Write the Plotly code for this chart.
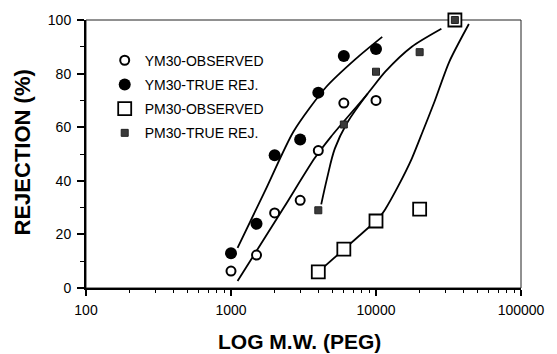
import plotly.graph_objects as go

# ---- data ----
ym30_obs_x = [1000, 1500, 2000, 3000, 4000, 6000, 10000]
ym30_obs_y = [6.3, 12.3, 28, 32.7, 51.3, 69, 70]

ym30_true_x = [1000, 1500, 2000, 3000, 4000, 6000, 10000]
ym30_true_y = [13, 24, 49.5, 55.4, 72.9, 86.6, 89.2]

pm30_obs_x = [4000, 6000, 10000, 20000, 35000]
pm30_obs_y = [6, 14.5, 25, 29.4, 100]

pm30_true_x = [4000, 6000, 10000, 20000, 35000]
pm30_true_y = [29, 61, 80.7, 88, 100]

# hand-drawn fitted curves
curve_ym30_true_x = [1110, 1730, 2700, 4530, 7250, 11040]
curve_ym30_true_y = [15, 36.6, 58.4, 75, 85.5, 93.7]

curve_ym30_obs_x = [1110, 2320, 3760, 4900, 8750, 11590, 17660, 28250]
curve_ym30_obs_y = [2.6, 30.1, 48.3, 56.5, 72.5, 80.7, 90, 96.7]

curve_pm30_true_x = [4190, 4600, 5200, 6300, 8750]
curve_pm30_true_y = [31.2, 41, 52, 61.5, 72.5]

seg_pm30_obs_x = [4000, 6000, 10000]
seg_pm30_obs_y = [6, 14.5, 25]

curve_pm30_obs_x = [10800, 11590, 14190, 17660, 21000, 25300, 32000, 43700]
curve_pm30_obs_y = [27, 29.4, 37.9, 48.3, 58.4, 69.5, 84.4, 98.5]

x_tick_vals = [100, 1000, 10000, 100000]
x_tick_text = ["100", "1000", "10000", "100000"]
x_minor_vals = [k * 10 ** d for d in range(2, 5) for k in range(2, 10)]

FONT = "Liberation Sans, Arial, sans-serif"
LW = 1.8

fig = go.Figure()

def curve(x, y, shape="spline", smoothing=0.7):
    fig.add_trace(go.Scatter(x=x, y=y, mode="lines", showlegend=False,
                             line=dict(color="black", width=LW, shape=shape, smoothing=smoothing),
                             hoverinfo="skip"))

curve(curve_ym30_true_x, curve_ym30_true_y)
curve(curve_ym30_obs_x, curve_ym30_obs_y)
curve(curve_pm30_true_x, curve_pm30_true_y, smoothing=1.0)
curve(seg_pm30_obs_x, seg_pm30_obs_y, shape="linear")
curve(curve_pm30_obs_x, curve_pm30_obs_y)

fig.add_trace(go.Scatter(x=ym30_obs_x, y=ym30_obs_y, mode="markers", name="YM30-OBSERVED",
                         legendgroup="a",
                         marker=dict(symbol="circle", size=9, color="white",
                                     line=dict(color="black", width=2)), cliponaxis=False))
fig.add_trace(go.Scatter(x=ym30_true_x, y=ym30_true_y, mode="markers", name="YM30-TRUE REJ.",
                         legendgroup="b",
                         marker=dict(symbol="circle", size=12, color="black",
                                     line=dict(color="black", width=0)), cliponaxis=False))
fig.add_trace(go.Scatter(x=pm30_obs_x, y=pm30_obs_y, mode="markers", name="PM30-OBSERVED",
                         legendgroup="c",
                         marker=dict(symbol="square", size=13, color="white",
                                     line=dict(color="black", width=1.8)), cliponaxis=False))
fig.add_trace(go.Scatter(x=pm30_true_x, y=pm30_true_y, mode="markers", name="PM30-TRUE REJ.",
                         legendgroup="d",
                         marker=dict(symbol="square", size=7, color="#3a3a3a",
                                     line=dict(color="#222", width=1)), cliponaxis=False))

# thin top/right frame
fig.add_shape(type="rect", xref="x domain", yref="y domain", x0=0, x1=1, y0=0, y1=1,
              line=dict(color="#222", width=1), layer="below")

fig.add_annotation(text="LOG M.W. (PEG)", xref="paper", yref="paper", x=0.49, y=-0.199,
                   xanchor="center", yanchor="middle", showarrow=False,
                   font=dict(family=FONT, size=21, color="black", weight="bold"))
fig.add_annotation(text="REJECTION (%)", xref="paper", yref="paper", x=-0.147, y=0.506,
                   xanchor="center", yanchor="middle", showarrow=False, textangle=-90,
                   font=dict(family=FONT, size=22, color="black", weight="bold"))

fig.update_layout(
    width=557, height=354,
    margin=dict(l=86, r=29, t=17, b=66),
    paper_bgcolor="white", plot_bgcolor="white",
    font=dict(family=FONT, size=14, color="black"),
    legend=dict(x=0.043, y=0.908, xanchor="left", yanchor="top",
                bgcolor="rgba(0,0,0,0)", borderwidth=0, tracegroupgap=3,
                traceorder="grouped", font=dict(family=FONT, size=14, color="black")),
    showlegend=True,
)
fig.update_xaxes(type="log", range=[2, 5], tickvals=x_tick_vals, ticktext=x_tick_text,
                 ticks="outside", ticklen=6, tickwidth=1.5, tickcolor="black",
                 showline=True, linewidth=2, linecolor="black", showgrid=False, zeroline=False,
                 minor=dict(tickvals=x_minor_vals, ticks="outside", ticklen=3,
                            tickwidth=1.2, tickcolor="black", showgrid=False),
                 tickfont=dict(size=14), ticklabelstandoff=2)
fig.update_yaxes(range=[0, 100], dtick=20, tick0=0,
                 ticks="outside", ticklen=7, tickwidth=1.5, tickcolor="black",
                 showline=True, linewidth=2, linecolor="black", showgrid=False, zeroline=False,
                 minor=dict(dtick=10, ticks="outside", ticklen=4, tickwidth=1.2,
                            tickcolor="black", showgrid=False),
                 tickfont=dict(size=14), ticklabelstandoff=3)

fig.write_html("out.html")
